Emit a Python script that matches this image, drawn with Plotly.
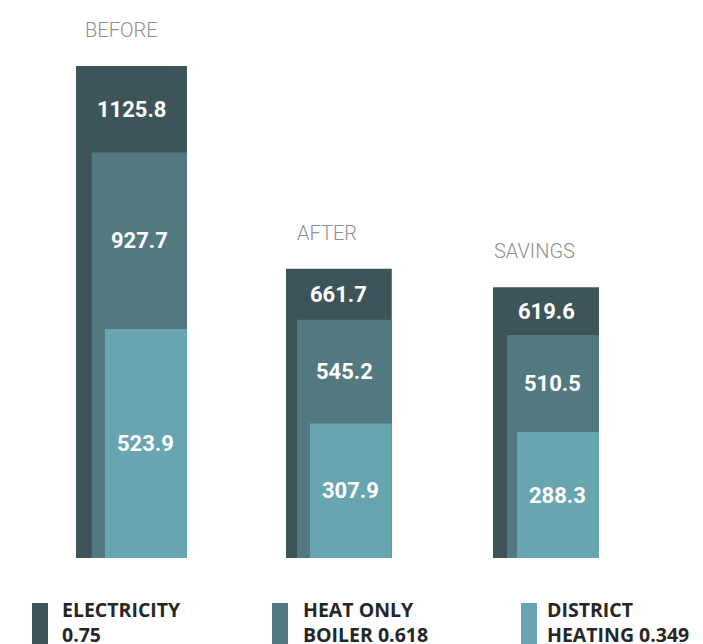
import plotly.graph_objects as go

# ---- data ----
groups = ["BEFORE", "AFTER", "SAVINGS"]
series_names = ["ELECTRICITY<br>0.75", "HEAT ONLY<br>BOILER 0.618", "DISTRICT<br>HEATING 0.349"]
electricity = [1125.8, 661.7, 619.6]
heat_only_boiler = [927.7, 545.2, 510.5]
district_heating = [523.9, 307.9, 288.3]

# ---- styling ----
colors = ["#3d5558", "#52797f", "#69a5b1"]
widths = [[0.536, 0.511, 0.512], [0.460, 0.4575, 0.4444], [0.396, 0.3947, 0.396]]
offsets = [[-0.268, -0.2536, -0.2536], [-0.192, -0.2005, -0.186], [-0.128, -0.1377, -0.1377]]
title_xshift = [7, 9, -1]
COND = "Roboto, sans-serif"

PAGE_OFF = 8           # page body margin
W, H = 703, 644
BASE_PX = 558 - PAGE_OFF
PX_PER_UNIT_Y = 0.437
PX_PER_CAT = 207
X0_PX = 131.5 - PAGE_OFF

series = [electricity, heat_only_boiler, district_heating]
xs = list(range(len(groups)))

fig = go.Figure()
for s, vals in enumerate(series):
    fig.add_trace(go.Bar(
        x=xs, y=vals, width=widths[s], offset=offsets[s],
        marker=dict(color=colors[s], line=dict(width=0)),
        showlegend=False, hoverinfo="skip",
    ))

annotations = []
for s, vals in enumerate(series):
    for i, v in enumerate(vals):
        lower = series[s + 1][i] if s + 1 < len(series) else 0
        annotations.append(dict(
            x=i + offsets[s][i] + widths[s][i] / 2, y=(v + lower) / 2,
            xref="x", yref="y", text=f"{v:.1f}", showarrow=False,
            font=dict(family=COND, size=22, color="white", weight="bold"),
            xanchor="center", yanchor="middle",
        ))

for i, g in enumerate(groups):
    annotations.append(dict(
        x=i + offsets[0][i], y=electricity[i], xref="x", yref="y",
        text=g, showarrow=False, xanchor="left", yanchor="bottom",
        xshift=title_xshift[i], yshift=22,
        font=dict(family=COND, size=20, color="#8f8f8f", weight=300),
    ))

def py(p):
    return (BASE_PX - (p - PAGE_OFF)) / BASE_PX

def px(p):
    return (p - PAGE_OFF) / W

shapes = []
leg_rect_x = [32, 272, 521]
leg_text_x = [60, 301, 545]
for k in range(3):
    shapes.append(dict(type="rect", xref="paper", yref="paper",
                       x0=px(leg_rect_x[k]), x1=px(leg_rect_x[k] + 16),
                       y0=py(603), y1=py(720), fillcolor=colors[k], line=dict(width=0), layer="above"))
    annotations.append(dict(
        x=px(leg_text_x[k]), y=py(594), xref="paper", yref="paper",
        text=series_names[k], showarrow=False, xanchor="left", yanchor="top", align="left",
        font=dict(family="Open Sans", size=19.5, color="#262626", weight="bold"),
    ))

fig.update_layout(
    width=W, height=H,
    margin=dict(l=0, r=0, t=0, b=H - BASE_PX, pad=0),
    paper_bgcolor="white", plot_bgcolor="white",
    barmode="overlay",
    xaxis=dict(range=[-X0_PX / PX_PER_CAT, (W - X0_PX) / PX_PER_CAT],
               visible=False, fixedrange=True),
    yaxis=dict(range=[0, BASE_PX / PX_PER_UNIT_Y], visible=False, fixedrange=True),
    annotations=annotations, shapes=shapes,
)

fig.write_html("out.html")
